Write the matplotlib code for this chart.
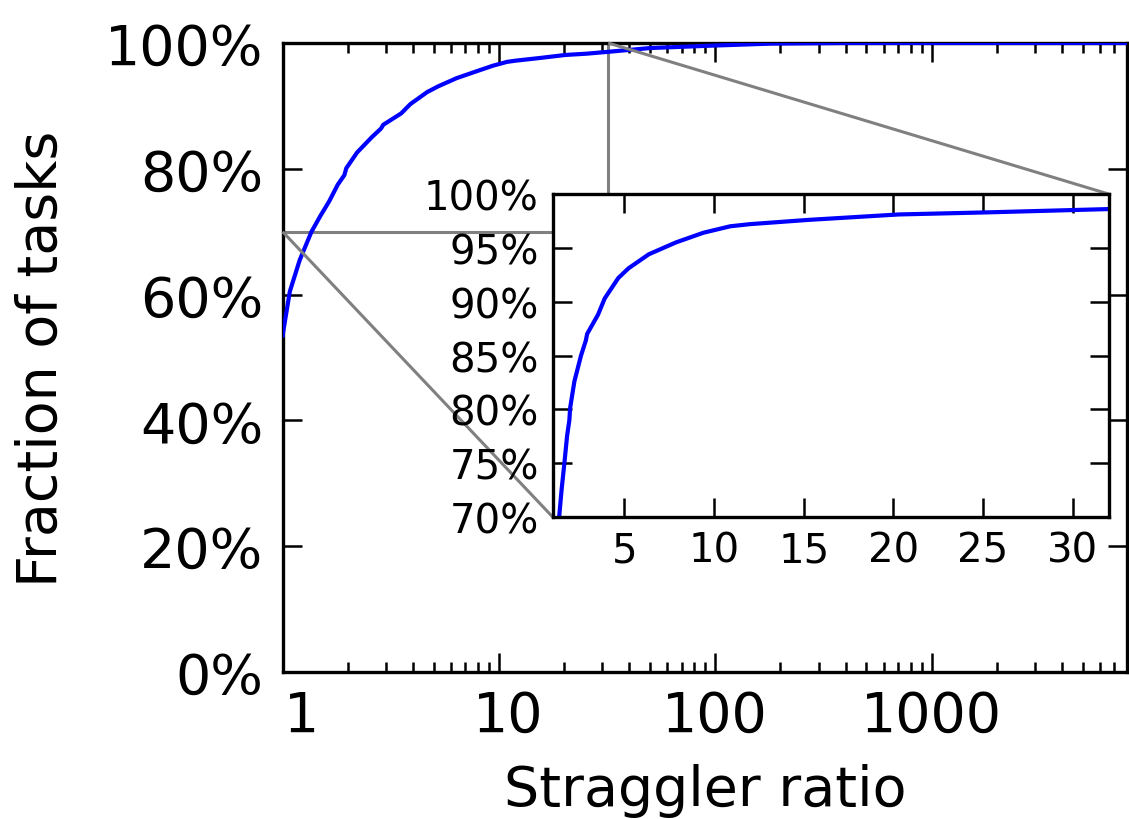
import numpy as np
import matplotlib
matplotlib.use("Agg")
import matplotlib.pyplot as plt
from matplotlib.ticker import FixedLocator, FuncFormatter, NullFormatter
from matplotlib.transforms import ScaledTranslation
from mpl_toolkits.axes_grid1.inset_locator import mark_inset

# CDF of straggler ratio (ratio, cumulative % of tasks)
straggler_ratio = [1.00, 1.08, 1.20, 1.36, 1.50, 1.64, 1.80, 1.93, 1.97, 2.21,
                   2.58, 2.85, 2.92, 3.53, 3.90, 4.66, 5.23, 6.36, 7.87, 9.40,
                   10.9, 12.0, 15.3, 20.3, 25.4, 32.0, 50.0, 100.0, 180.0, 400.0,
                   8000.0]
fraction_pct = [53.5, 60.5, 65.5, 70.0, 72.6, 74.8, 77.5, 79.0, 80.1, 82.6,
                85.0, 86.4, 87.0, 88.8, 90.3, 92.2, 93.1, 94.4, 95.5, 96.4,
                97.0, 97.2, 97.6, 98.1, 98.3, 98.6, 99.2, 99.6, 99.9, 100.0,
                100.0]

main_xticks = [1, 10, 100, 1000]
main_xticklabels = ["1", "10", "100", "1000"]
main_yticks = [0, 20, 40, 60, 80, 100]
inset_xticks = [5, 10, 15, 20, 25, 30]
inset_yticks = [70, 75, 80, 85, 90, 95, 100]

plt.rcParams["font.family"] = ["DejaVu Sans"]
plt.rcParams["axes.linewidth"] = 2.4

W, H = 1129, 820
fig = plt.figure(figsize=(W / 100, H / 100), dpi=100)
fig.patch.set_facecolor("white")

def frac(x0, y0, x1, y1):
    return [x0 / W, 1 - y1 / H, (x1 - x0) / W, (y1 - y0) / H]

ax = fig.add_axes(frac(282.6, 44, 1127, 673))
ax.plot(straggler_ratio, fraction_pct, color="#0000ff", lw=3.0, zorder=3)
ax.set_xscale("log")
ax.set_xlim(1, 8000)
ax.set_ylim(0, 100)
ax.xaxis.set_major_locator(FixedLocator(main_xticks))
ax.set_xticklabels(main_xticklabels)
ax.xaxis.set_minor_formatter(NullFormatter())
ax.yaxis.set_major_locator(FixedLocator(main_yticks))
ax.yaxis.set_major_formatter(FuncFormatter(lambda v, p: "%d%%" % v))
ax.tick_params(which="both", direction="in", top=True, right=True,
               labelsize=40, width=1.8, color="black")
ax.tick_params(which="major", length=14)
ax.tick_params(which="minor", length=7)
ax.tick_params(axis="x", pad=12)
ax.tick_params(axis="y", pad=14)

# nudge the two leftmost decade labels to the right
for lbl, dx in zip(ax.get_xticklabels()[:2], [19, 9]):
    lbl.set_transform(lbl.get_transform() + ScaledTranslation(dx / 100, 0, fig.dpi_scale_trans))

ax.set_xlabel("Straggler ratio", fontsize=40, va="baseline")
ax.xaxis.set_label_coords(0.5, (673 - 806) / 629)
ax.set_ylabel("Fraction of tasks", fontsize=40, va="center")
ax.yaxis.set_label_coords((42 - 282.6) / 844.4, 0.5)

# zoomed inset of the upper part of the distribution
axins = fig.add_axes(frac(552.7, 195, 1108.5, 518))
axins.plot(straggler_ratio, fraction_pct, color="#0000ff", lw=3.0)
axins.set_xlim(1, 32)
axins.set_ylim(70, 100)
axins.xaxis.set_major_locator(FixedLocator(inset_xticks))
axins.yaxis.set_major_locator(FixedLocator(inset_yticks))
axins.yaxis.set_major_formatter(FuncFormatter(lambda v, p: "%d%%" % v))
axins.tick_params(which="both", direction="in", top=True, right=True,
                  labelsize=29, width=1.8, length=14, pad=10)

mark_inset(ax, axins, loc1=1, loc2=3, fc="none", ec="0.5", lw=2.2)

fig.savefig("out.png", dpi=100, facecolor="white")
